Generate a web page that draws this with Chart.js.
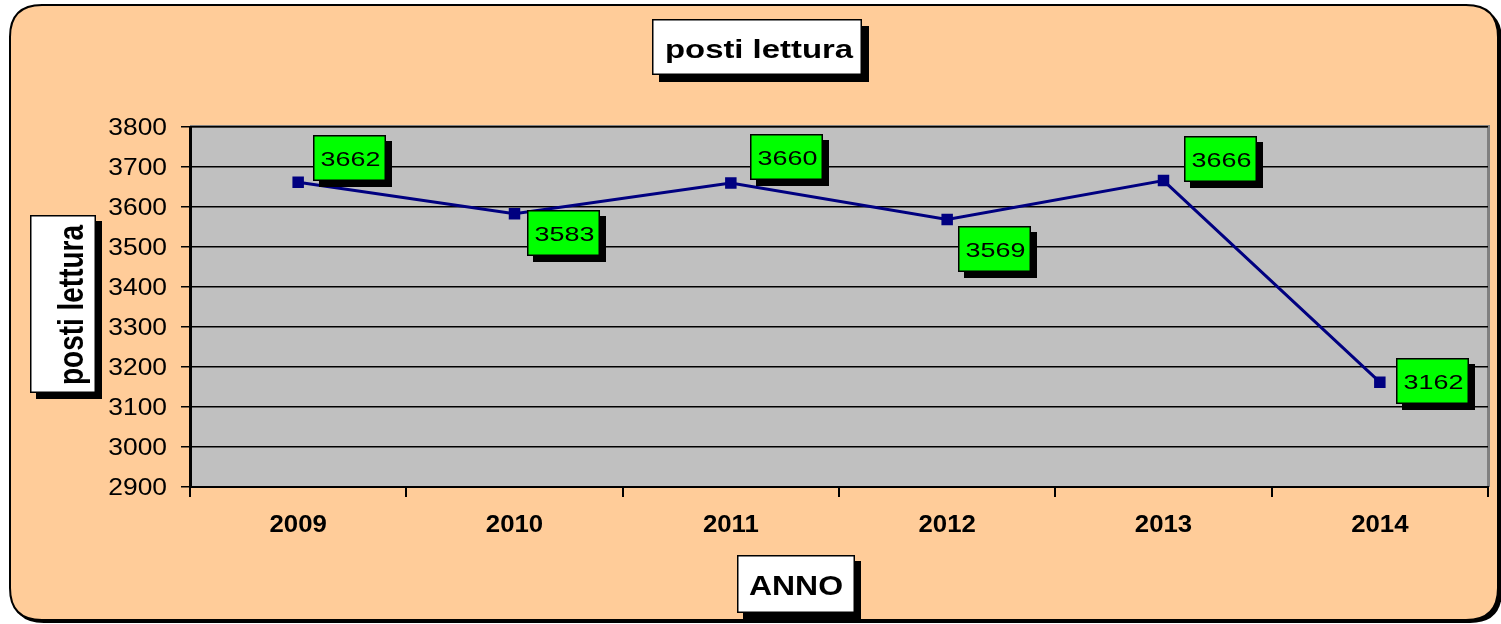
<!DOCTYPE html>
<html><head><meta charset="utf-8">
<script src="https://cdn.jsdelivr.net/npm/chart.js@4/dist/chart.umd.min.js"></script>
<style>html,body{margin:0;padding:0;background:#fff}#wrap{width:1501px;height:624px}</style>
</head><body><div id="wrap"><canvas id="c" width="1501" height="624"></canvas></div>
<script>
const categories = ['2009','2010','2011','2012','2013','2014'];
const values = [3662, 3583, 3660, 3569, 3666, 3162];
const yTicks = [2900,3000,3100,3200,3300,3400,3500,3600,3700,3800];
const chartTitle = 'posti lettura';
const yTitle = 'posti lettura';
const xTitle = 'ANNO';
// label box offsets relative to each point (dx, dy of box top-left)
const labelOffsets = [[15,-47],[12,-4],[19,-49],[11,7],[20,-45],[16,-24]];

const FONT = 'Arial, "Liberation Sans", sans-serif';
function boxWithShadow(ctx,x,y,w,h,fill,sh){
  ctx.fillStyle='#000';ctx.fillRect(x+sh,y+sh,w,h);
  ctx.fillStyle=fill;ctx.fillRect(x,y,w,h);
  ctx.strokeStyle='#000';ctx.lineWidth=1.5;ctx.strokeRect(x+0.75,y+0.75,w-1.5,h-1.5);
}
function stretchText(ctx,text,x,y,font,sx,align,baseline){
  ctx.save();ctx.font=font;ctx.textAlign=align;ctx.textBaseline=baseline;
  ctx.translate(x,y);ctx.scale(sx,1);ctx.fillStyle='#000';ctx.fillText(text,0,0);ctx.restore();
}
function fitText(ctx,text,x,y,font,width,baseline){
  ctx.save();ctx.font=font;const w=ctx.measureText(text).width;ctx.restore();
  stretchText(ctx,text,x,y,font,width/w,'center',baseline);
}
function roundRect(ctx,x,y,w,h,r){
  ctx.beginPath();ctx.moveTo(x+r,y);ctx.lineTo(x+w-r,y);ctx.quadraticCurveTo(x+w,y,x+w,y+r);
  ctx.lineTo(x+w,y+h-r);ctx.quadraticCurveTo(x+w,y+h,x+w-r,y+h);ctx.lineTo(x+r,y+h);
  ctx.quadraticCurveTo(x,y+h,x,y+h-r);ctx.lineTo(x,y+r);ctx.quadraticCurveTo(x,y,x+r,y);ctx.closePath();
}
const deco = {
  id:'deco',
  beforeDraw(chart){
    const ctx=chart.ctx;ctx.save();
    ctx.fillStyle='#fff';ctx.fillRect(0,0,chart.width,chart.height);
    roundRect(ctx,12,8,1490,615,32);ctx.fillStyle='#000';ctx.fill();
    roundRect(ctx,10,5,1488,615,32);ctx.fillStyle='#FFCC99';ctx.fill();
    ctx.lineWidth=2;ctx.strokeStyle='#000';ctx.stroke();
    const a=chart.chartArea;
    ctx.fillStyle='#C0C0C0';ctx.fillRect(a.left,a.top,a.right-a.left,a.bottom-a.top);
    ctx.strokeStyle='#808080';ctx.lineWidth=3;
    ctx.beginPath();ctx.moveTo(a.left,a.top-0.5);ctx.lineTo(a.right+0.5,a.top-0.5);ctx.lineTo(a.right+0.5,a.bottom);ctx.stroke();
    ctx.restore();
  },
  afterDraw(chart){
    const ctx=chart.ctx;ctx.save();
    // y tick labels
    const ys=chart.scales.y;
    ys.ticks.forEach(t=>{
      stretchText(ctx,String(t.value),167,ys.getPixelForValue(t.value)+1,'24px '+FONT,1.1,'right','middle');
    });
    const xs=chart.scales.x;
    categories.forEach((c,i)=>{
      stretchText(ctx,c,xs.getPixelForValue(i),526,'bold 23px '+FONT,1.12,'center','middle');
    });
    // data labels
    const meta=chart.getDatasetMeta(0);
    meta.data.forEach((p,i)=>{
      const bx=Math.round(p.x+labelOffsets[i][0]), by=Math.round(p.y+labelOffsets[i][1]);
      boxWithShadow(ctx,bx,by,73,46,'#00FF00',6);
      stretchText(ctx,String(values[i]),bx+37.5,by+25,'21px '+FONT,1.28,'center','middle');
    });
    // titles
    boxWithShadow(ctx,652,19,210,56,'#fff',7);
    fitText(ctx,chartTitle,759,58,'bold 25px '+FONT,188,'alphabetic');
    boxWithShadow(ctx,737,555,118,58,'#fff',6);
    fitText(ctx,xTitle,796,595,'bold 28px '+FONT,94,'alphabetic');
    boxWithShadow(ctx,30,215,66,178,'#fff',6);
    ctx.save();
    ctx.font='bold 27px '+FONT;const w=ctx.measureText(yTitle).width;
    ctx.translate(83,305);ctx.rotate(-Math.PI/2);ctx.scale(160/w,1.3);
    ctx.textAlign='center';ctx.textBaseline='alphabetic';ctx.fillStyle='#000';ctx.fillText(yTitle,0,0);
    ctx.restore();
    ctx.restore();
  }
};
new Chart(document.getElementById('c'),{
  type:'line',
  data:{labels:categories,datasets:[{data:values,borderColor:'#000080',borderWidth:3,
    backgroundColor:'#000080',pointStyle:'rect',pointRadius:6,pointHoverRadius:6,tension:0,clip:false}]},
  options:{
    responsive:false,animation:false,devicePixelRatio:1,
    layout:{padding:{left:0,top:127,right:13,bottom:87}},
    plugins:{legend:{display:false},tooltip:{enabled:false}},
    scales:{
      x:{type:'category',offset:true,
        grid:{offset:true,drawOnChartArea:false,drawTicks:true,tickLength:10,color:'#000',lineWidth:2},
        border:{color:'#000',width:2},
        ticks:{color:'rgba(0,0,0,0)',font:{family:FONT,size:20,weight:'bold'},padding:16},
        afterFit(s){s.height=50;}
      },
      y:{min:2900,max:3800,
        afterBuildTicks(s){s.ticks=yTicks.map(v=>({value:v}));},
        grid:{color:'#000',lineWidth:1.5,tickLength:9,drawTicks:true},
        border:{color:'#000',width:3},
        ticks:{color:'rgba(0,0,0,0)',font:{family:FONT,size:20},padding:15},
        afterFit(s){s.width=190;}
      }
    }
  },
  plugins:[deco]
});
</script></body></html>
